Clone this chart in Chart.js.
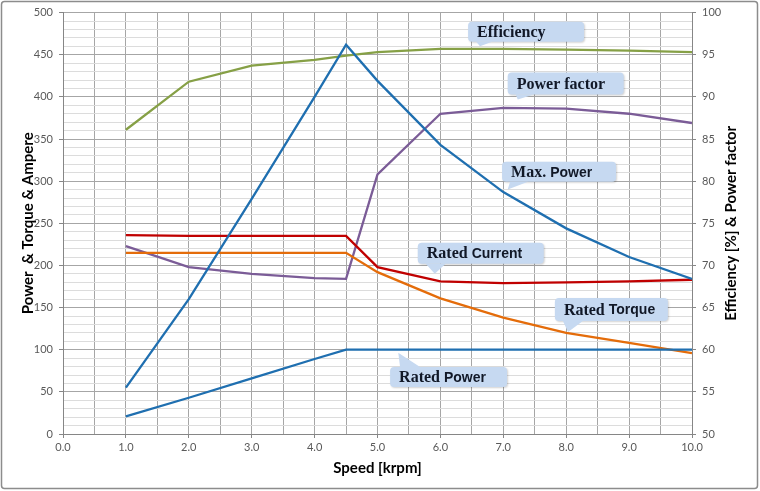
<!DOCTYPE html>
<html>
<head>
<meta charset="utf-8">
<script src="https://cdn.jsdelivr.net/npm/chart.js@4.4.0/dist/chart.umd.min.js"></script>
<style>
    html, body { margin: 0; padding: 0; background: #fff; }
    #wrap { width: 760px; height: 491px; position: relative; }
</style>
</head>
<body>
<div id="wrap"><canvas id="motorChart" width="760" height="491"></canvas></div>
<script>
// Data
const speed = [1.0, 2.0, 3.0, 4.0, 4.5, 5.0, 6.0, 7.0, 8.0, 9.0, 10.0];
const maxPower = [55, 160, 279, 400, 462, 419, 343, 287, 244, 210, 184];
const ratedPower = [21, 43, 66, 89, 100, 100, 100, 100, 100, 100, 100];
const ratedCurrent = [236, 235, 235, 235, 235, 198, 181, 179, 180, 181, 183];
const ratedTorque = [215, 215, 215, 215, 215, 192, 161, 138, 120, 108, 96];
const efficiency = [86.1, 91.8, 93.7, 94.4, 94.9, 95.3, 95.7, 95.7, 95.6, 95.5, 95.3];
const powerFactor = [72.3, 69.8, 69.0, 68.5, 68.4, 80.8, 88.0, 88.7, 88.6, 88.0, 86.9];

const rightTitle = 'Efficiency [%] & Power factor';

// Callout labels: box corner + tail point in data coords (left axis)
const callouts = [
    { parts: [['Efficiency', 'serif']], x: 6.44, y: 489, w: 116, h: 20, tip: [6.63, 460], edge: 'bottom', base: [8, 24] },
    { parts: [['Power factor', 'serif']], x: 7.07, y: 429, w: 116, h: 22, tip: [7.23, 397], edge: 'bottom', base: [8, 26] },
    { parts: [['Max. ', 'serif'], ['Power', 'sans']], x: 6.98, y: 323, w: 114, h: 20, tip: [7.07, 290], edge: 'bottom', base: [8, 26] },
    { parts: [['Rated ', 'serif'], ['Current', 'sans']], x: 5.64, y: 227, w: 126, h: 21, tip: [5.91, 190], edge: 'bottom', base: [8, 28] },
    { parts: [['Rated ', 'serif'], ['Torque', 'sans']], x: 7.82, y: 161.5, w: 113, h: 23, tip: [8.03, 121], edge: 'bottom', base: [8, 28] },
    { parts: [['Rated ', 'serif'], ['Power', 'sans']], x: 5.20, y: 79.6, w: 117, h: 20, tip: [5.33, 96.5], edge: 'top', base: [10, 30] }
];

const toPoints = (vals) => vals.map((v, i) => ({ x: speed[i], y: v }));

const tickFont = { family: 'Lato, "Open Sans", sans-serif', size: 11 };
const titleFont = { family: 'Lato, "Open Sans", sans-serif', size: 15, weight: 'bold' };

const makeLine = (label, vals, color, axis) => ({
    label: label,
    data: toPoints(vals),
    borderColor: color,
    backgroundColor: color,
    borderWidth: 2.3,
    pointRadius: 0,
    tension: 0,
    yAxisID: axis
});

// Draw the callout boxes, right title (reads bottom to top) and outer frame
const calloutPlugin = {
    id: 'callouts',
    afterDatasetsDraw(chart) {
        const ctx = chart.ctx;
        const xs = chart.scales.x;
        const ys = chart.scales.y;
        callouts.forEach(c => {
            const left = xs.getPixelForValue(c.x);
            const top = ys.getPixelForValue(c.y);
            const tx = xs.getPixelForValue(c.tip[0]);
            const ty = ys.getPixelForValue(c.tip[1]);
            const edgeY = c.edge === 'bottom' ? top + c.h : top;
            ctx.save();
            ctx.shadowColor = 'rgba(0,0,0,0.18)';
            ctx.shadowBlur = 2;
            ctx.shadowOffsetX = 1;
            ctx.shadowOffsetY = 1;
            ctx.fillStyle = '#c6d9f1';
            ctx.beginPath();
            ctx.roundRect(left, top, c.w, c.h, 4);
            ctx.fill();
            ctx.shadowColor = 'transparent';
            ctx.beginPath();
            ctx.moveTo(left + c.base[0], edgeY);
            ctx.lineTo(tx, ty);
            ctx.lineTo(left + c.base[1], edgeY);
            ctx.closePath();
            ctx.fill();
            // text
            ctx.fillStyle = '#111827';
            ctx.textBaseline = 'middle';
            ctx.textAlign = 'left';
            let cx = left + 9;
            c.parts.forEach(p => {
                ctx.font = p[1] === 'serif'
                    ? 'bold 16px "Liberation Serif", "DejaVu Serif", serif'
                    : 'bold 14px "Liberation Sans", Arial, sans-serif';
                ctx.fillText(p[0], cx, top + c.h / 2 + 1);
                cx += ctx.measureText(p[0]).width;
            });
            ctx.restore();
        });
    },
    afterDraw(chart) {
        const ctx = chart.ctx;
        const area = chart.chartArea;
        // right axis title
        ctx.save();
        ctx.translate(731, (area.top + area.bottom) / 2);
        ctx.rotate(-Math.PI / 2);
        ctx.font = 'bold 15px Lato, "Open Sans", sans-serif';
        ctx.fillStyle = '#000';
        ctx.textAlign = 'center';
        ctx.textBaseline = 'middle';
        ctx.fillText(rightTitle, 0, 0);
        ctx.restore();
        // outer frame
        ctx.save();
        ctx.strokeStyle = '#8c8c8c';
        ctx.lineWidth = 1.5;
        ctx.beginPath();
        ctx.roundRect(1.5, 1.5, 756, 487, 3);
        ctx.stroke();
        ctx.restore();
    }
};

const chart = new Chart(document.getElementById('motorChart').getContext('2d'), {
    type: 'line',
    data: {
        datasets: [
            makeLine('Max. Power', maxPower, '#1f6fb0', 'y'),
            makeLine('Rated Power', ratedPower, '#1f6fb0', 'y'),
            makeLine('Rated Current', ratedCurrent, '#c00000', 'y'),
            makeLine('Rated Torque', ratedTorque, '#e46c0a', 'y'),
            makeLine('Power factor', powerFactor, '#7b5c97', 'y1'),
            makeLine('Efficiency', efficiency, '#86a046', 'y1')
        ]
    },
    options: {
        responsive: false,
        animation: false,
        layout: { padding: { top: 12, left: 0, right: 0, bottom: 0 } },
        plugins: {
            legend: { display: false },
            tooltip: { enabled: false }
        },
        scales: {
            x: {
                type: 'linear',
                min: 0,
                max: 10,
                ticks: {
                    stepSize: 0.5,
                    autoSkip: false,
                    maxRotation: 0,
                    padding: 3,
                    color: '#595959',
                    font: tickFont,
                    callback: (v) => Number.isInteger(v) ? v.toFixed(1) : ''
                },
                grid: {
                    color: '#a6a6a6',
                    lineWidth: 1,
                    tickLength: 4,
                    tickColor: (ctx) => Number.isInteger(ctx.tick && ctx.tick.value) ? '#868686' : 'transparent'
                },
                border: { color: '#868686', width: 1 },
                title: { display: true, text: 'Speed [krpm]', color: '#000', font: titleFont, padding: { top: 0, bottom: 14 } },
                afterFit: (s) => { s.height = 57; }
            },
            y: {
                position: 'left',
                min: 0,
                max: 500,
                ticks: {
                    stepSize: 10,
                    autoSkip: false,
                    padding: 6,
                    color: '#595959',
                    font: tickFont,
                    callback: (v) => v % 50 === 0 ? v : ''
                },
                grid: {
                    color: (ctx) => ctx.tick && ctx.tick.value % 50 === 0 ? '#a6a6a6' : '#dcdcdc',
                    lineWidth: 1,
                    tickLength: 4,
                    tickColor: (ctx) => ctx.tick && ctx.tick.value % 50 === 0 ? '#868686' : 'transparent'
                },
                border: { color: '#868686', width: 1 },
                title: { display: true, text: 'Power  & Torque & Ampere', color: '#000', font: titleFont, padding: { top: 19, bottom: 0 } },
                afterFit: (s) => { s.width = 63; }
            },
            y1: {
                position: 'right',
                min: 50,
                max: 100,
                ticks: {
                    stepSize: 5,
                    padding: 6,
                    color: '#595959',
                    font: tickFont
                },
                grid: { drawOnChartArea: false, tickLength: 4, tickColor: '#868686' },
                border: { color: '#868686', width: 1 },
                title: { display: false },
                afterFit: (s) => { s.width = 68; }
            }
        }
    },
    plugins: [calloutPlugin]
});
</script>
</body>
</html>
